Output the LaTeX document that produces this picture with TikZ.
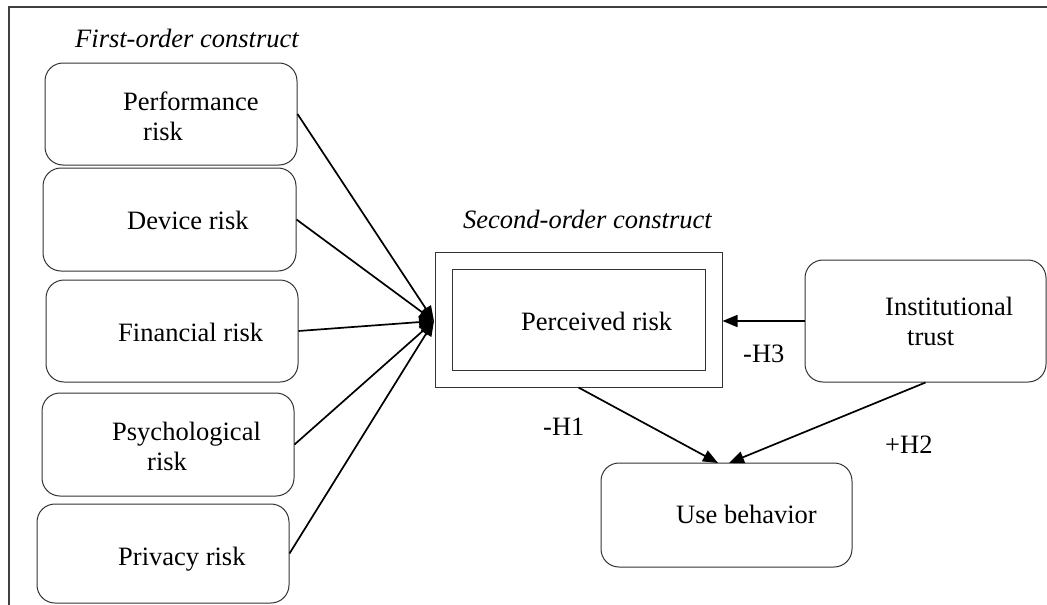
\documentclass[tikz,border=0pt]{standalone}
\usepackage{fontspec}
\setmainfont{Liberation Serif}
\usetikzlibrary{arrows.meta}
\tikzset{
  rbox/.style={draw=black!80, line width=1pt, rounded corners=18pt, minimum width=#1, inner sep=0pt},
  sbox/.style={draw=black!80, line width=1pt, inner sep=0pt},
  txt/.style={anchor=base west, inner sep=0pt, font=\fontsize{26.5}{30}\selectfont},
  itxt/.style={txt, font=\fontsize{26.5}{30}\selectfont\itshape},
  conn/.style={line width=1.7pt, -{Triangle[length=15pt,width=12pt]}},
  frame/.style={line width=1.8pt, black!75}
}
\begin{document}
\begin{tikzpicture}[x=1pt, y=-1pt]
\useasboundingbox (0,0) rectangle (1047,605);
\fill[white] (0,0) rectangle (1047,605);
\draw[frame] (9,605) -- (9,7) -- (1047,7);

% first-order boxes
\node[rbox=252pt, minimum height=102pt] (perf) at (171,114) {};
\node[rbox=253pt, minimum height=103pt] (dev) at (169.5,219.5) {};
\node[rbox=252pt, minimum height=102pt] (fin) at (172,331) {};
\node[rbox=252pt, minimum height=103pt] (psy) at (168,444.5) {};
\node[rbox=252pt, minimum height=99pt] (priv) at (163,553.5) {};

\node[itxt] (fo) at (75,47) {First-order construct};
\node[txt] (perf1) at (123,110) {Performance};
\node[txt] (perf2) at (143,140) {risk};
\node[txt] (devt) at (127,229) {Device risk};
\node[txt] (fint) at (118,341) {Financial risk};
\node[txt] (psy1) at (112,440) {Psychological};
\node[txt] (psy2) at (147,470) {risk};
\node[txt] (privt) at (118,565) {Privacy risk};

% second-order construct
\node[itxt] (so) at (463,228) {Second-order construct};
\node[sbox, minimum width=287pt, minimum height=135pt] (outer) at (578.5,319.5) {};
\node[sbox, minimum width=253pt, minimum height=101pt] (inner) at (578.5,319.5) {};
\node[txt] (pert) at (521,330) {Perceived risk};

% institutional trust
\node[rbox=241pt, minimum height=122pt] (inst) at (925.5,321) {};
\node[txt] (inst1) at (885,315) {Institutional};
\node[txt] (inst2) at (907,345) {trust};

% use behavior
\node[rbox=251pt, minimum height=104pt] (use) at (726.5,515) {};
\node[txt] (uset) at (676,523) {Use behavior};

% labels
\node[txt] (h3) at (743,362) {-H3};
\node[txt] (h1) at (543,435) {-H1};
\node[txt] (h2) at (885,453) {+H2};

% connectors
\coordinate (conv) at (434,321);
\coordinate (h1tip) at (718,463);
\coordinate (h2tip) at (729,463);
\draw[conn] (perf.east) -- (conv);
\draw[conn] (dev.east) -- (conv);
\draw[conn] (fin.east) -- (conv);
\draw[conn] (psy.east) -- (conv);
\draw[conn] (priv.east) -- (conv);
\draw[conn] (inst.west) -- (outer.east |- inst.west);
\draw[conn] (outer.south) -- (h1tip);
\draw[conn] (inst.south) -- (h2tip);
\end{tikzpicture}
\end{document}
